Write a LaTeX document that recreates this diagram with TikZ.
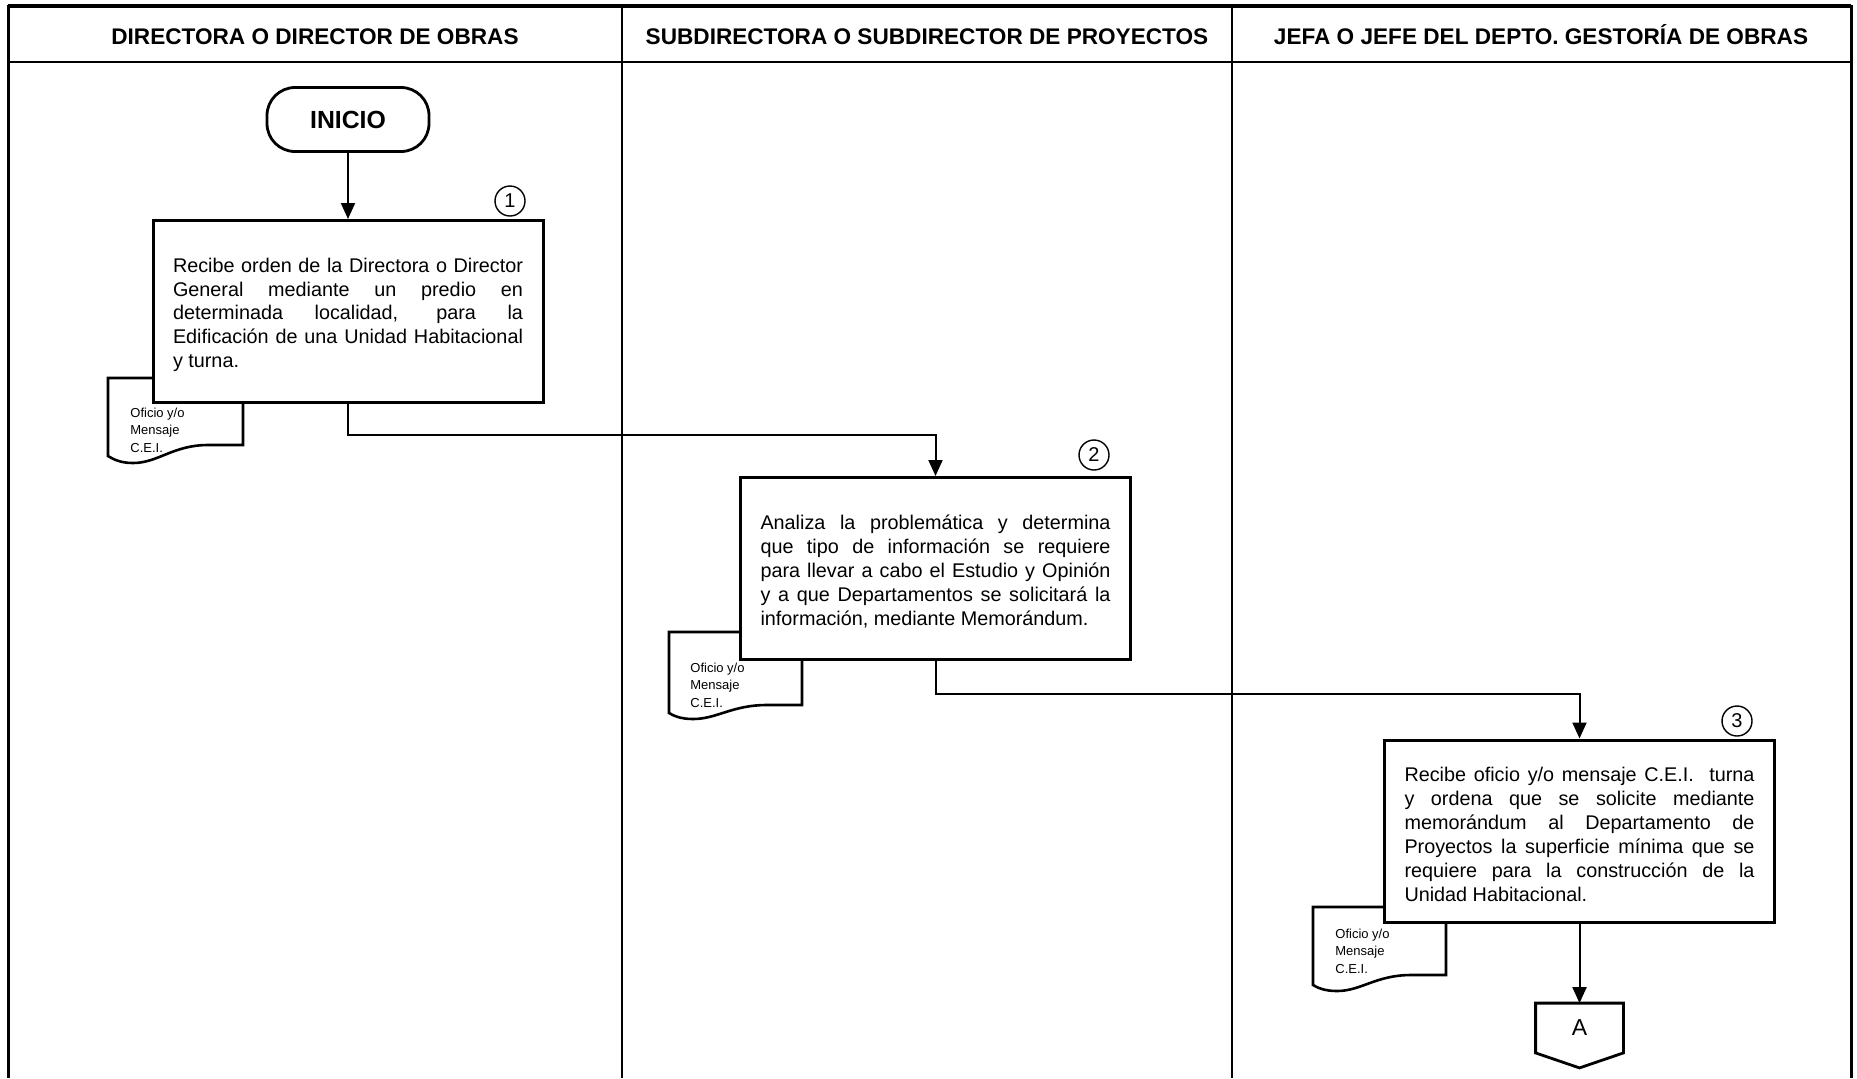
\documentclass[tikz,border=0pt]{standalone}
\usepackage{fontspec}
\setmainfont{Liberation Sans}
\usetikzlibrary{arrows.meta,calc}
\tolerance=10000
\hbadness=10000

\begin{document}
\begin{tikzpicture}[x=0.5pt,y=-0.5pt,
  outer/.style={line width=1.5pt},
  lane/.style={line width=1pt},
  hdr/.style={anchor=base,font=\fontsize{11.3}{13}\selectfont\bfseries},
  stepbox/.style={draw,line width=1.5pt,fill=white,minimum width=195pt,
    minimum height=91pt,text width=175pt,align=justify,inner sep=0pt,
    font=\fontsize{9.9}{11.95}\selectfont,
    execute at begin node={\rule{0pt}{10.5pt}}},
  startbox/.style={draw,line width=1.4pt,rounded corners=14pt,minimum width=81pt,
    minimum height=32pt,font=\fontsize{12.4}{14}\selectfont\bfseries},
  num/.style={draw,circle,line width=0.7pt,minimum size=15pt,inner sep=0pt,
    font=\fontsize{10}{11}\selectfont},
  docline/.style={line width=1.3pt,fill=white},
  doctext/.style={anchor=west,align=left,inner sep=0pt,
    font=\fontsize{6.5}{8.75}\selectfont},
  flow/.style={line width=1pt,-{Triangle[length=8pt,width=7pt]}},
  offpage/.style={minimum width=43.5pt,minimum height=24.5pt,inner sep=0pt,
    font=\fontsize{11.5}{13}\selectfont},
]
\useasboundingbox (0,0) rectangle (1857,1078);

% swimlane frame
\draw[line width=2pt] (8,6) -- (1851,6);
\draw[outer] (8,5) -- (8,1078);
\draw[outer] (1851,5) -- (1851,1078);
\draw[line width=1.2pt] (8,62) -- (1851,62);
\draw[lane] (622,6) -- (622,1078);
\draw[lane] (1232,6) -- (1232,1078);

\node[hdr] (h1) at (315,44.5) {DIRECTORA O DIRECTOR DE OBRAS};
\node[hdr] (h2) at (927,44.5) {SUBDIRECTORA O SUBDIRECTOR DE PROYECTOS};
\node[hdr] (h3) at (1541,44.5) {JEFA O JEFE DEL DEPTO. GESTORÍA DE OBRAS};

% document symbols
\begin{scope}[shift={(108,378)}]
  \draw[docline] (0,0) -- (135,0) -- (135,67) -- (100,67)
    .. controls (65,67) and (50,85) .. (25,85)
    .. controls (12,85) and (5,81) .. (0,78) -- cycle;
\end{scope}
\begin{scope}[shift={(669,632)}]
  \draw[docline] (0,0) -- (133,0) -- (133,73) -- (98,73)
    .. controls (63,73) and (48,87) .. (24,87)
    .. controls (12,87) and (5,84) .. (0,81) -- cycle;
\end{scope}
\begin{scope}[shift={(1313,907)}]
  \draw[docline] (0,0) -- (133,0) -- (133,68) -- (98,68)
    .. controls (63,68) and (48,84) .. (24,84)
    .. controls (12,84) and (5,81) .. (0,78) -- cycle;
\end{scope}
\node[doctext] (d1) at (130,430) {Oficio y/o\\Mensaje\\C.E.I.};
\node[doctext] (d2) at (690,685) {Oficio y/o\\Mensaje\\C.E.I.};
\node[doctext] (d3) at (1335,951) {Oficio y/o\\Mensaje\\C.E.I.};

% steps
\node[startbox] (inicio) at (348,119.5) {INICIO};

\node[stepbox] (b1) at (348,311.5) {Recibe orden de la Directora o Director\linebreak
General mediante un predio en\linebreak
determinada localidad, para la\linebreak
Edificación de una Unidad Habitacional\linebreak
y turna.};

\node[stepbox] (b2) at (935.5,568.5) {Analiza la problemática y determina\linebreak
que tipo de información se requiere\linebreak
para llevar a cabo el Estudio y Opinión\linebreak
y a que Departamentos se solicitará la\linebreak
información, mediante Memorándum.};

\node[stepbox] (b3) at (1579.5,831) {Recibe oficio y/o mensaje C.E.I.\ \ turna\linebreak
y ordena que se solicite mediante\linebreak
memorándum al Departamento de\linebreak
Proyectos la superficie mínima que se\linebreak
requiere para la construcción de la\linebreak
Unidad Habitacional.};

\node[num] (n1) at (510,201) {1};
\node[num] (n2) at (1094,455) {2};
\node[num] (n3) at (1737,721) {3};

% off-page connector
\node[offpage] (offA) at (1579.5,1028) {A};
\draw[line width=1.4pt] (offA.north west) -- (offA.north east) -- (offA.south east)
  -- ($(offA.south)+(0,15)$) -- (offA.south west) -- cycle;

% connectors
\draw[flow] (inicio.south) -- (b1.north);
\draw[flow] (b1.south) -- ++(0,31) -| (b2.north);
\draw[flow] (b2.south) -- ++(0,33) -| (b3.north);
\draw[flow] (b3.south) -- (offA.north);
\end{tikzpicture}
\end{document}
